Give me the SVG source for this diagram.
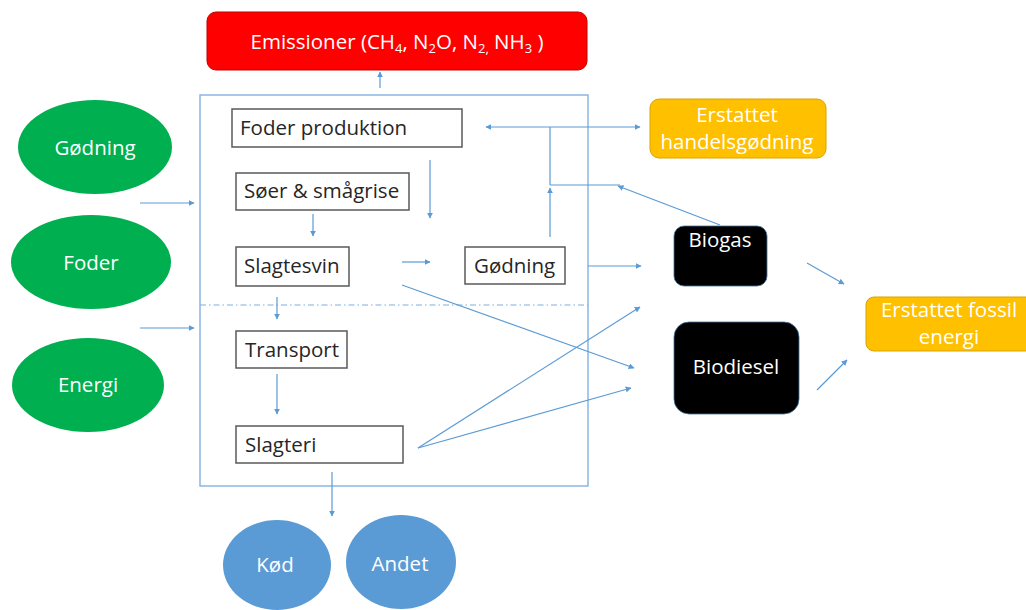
<svg xmlns="http://www.w3.org/2000/svg" width="1026" height="610" viewBox="0 0 1026 610">
  <style>
    .t { font-family: "Open Sans", "Liberation Sans", sans-serif; font-size: 20.5px; }
    .dark { fill: #262626; }
    .light { fill: #ffffff; }
    .box { fill: #ffffff; stroke: #595959; stroke-width: 1.5; }
    .conn { fill: none; stroke: #5B9BD5; stroke-width: 1.2; }
    .frame { fill: none; stroke: #8DB6E2; stroke-width: 1.5; }
    .green { fill: #00B050; }
    .blue { fill: #5B9BD5; }
    .gold { fill: #FFC000; stroke: #D9A400; stroke-width: 1; }
    .black { fill: #000000; stroke: #41719C; stroke-width: 0.8; }
  </style>
  <defs>
    <marker id="ah" viewBox="0 0 10 10" refX="9" refY="5" markerWidth="6" markerHeight="6" orient="auto" markerUnits="userSpaceOnUse">
      <path d="M0,0 L10,5 L0,10 z" fill="#5B9BD5"/>
    </marker>
  </defs>

  <!-- system boundary with the dash-dot divider -->
  <g id="system-boundary">
    <rect class="frame" x="200" y="95" width="388" height="391"/>
    <line x1="200" y1="305" x2="588" y2="305" stroke="#7FAEDD" stroke-width="1.2" stroke-dasharray="6 3 1.5 3"/>
  </g>

  <!-- connectors -->
  <g id="connectors">
    <line class="conn" x1="380" y1="88" x2="380" y2="72" marker-end="url(#ah)"/>
    <line class="conn" x1="140" y1="203" x2="194" y2="203" marker-end="url(#ah)"/>
    <line class="conn" x1="140" y1="328" x2="194" y2="328" marker-end="url(#ah)"/>
    <line class="conn" x1="430" y1="160" x2="430" y2="218" marker-end="url(#ah)"/>
    <line class="conn" x1="313" y1="214" x2="313" y2="236" marker-end="url(#ah)"/>
    <line class="conn" x1="402" y1="262" x2="430" y2="262" marker-end="url(#ah)"/>
    <line class="conn" x1="277" y1="297" x2="277" y2="319" marker-end="url(#ah)"/>
    <line class="conn" x1="277" y1="374" x2="277" y2="414" marker-end="url(#ah)"/>
    <line class="conn" x1="332" y1="472" x2="332" y2="516" marker-end="url(#ah)"/>
    <line class="conn" x1="550" y1="237" x2="550" y2="188" marker-end="url(#ah)"/>
    <line class="conn" x1="550" y1="127" x2="550" y2="185"/>
    <line class="conn" x1="550" y1="185" x2="620" y2="185"/>
    <line class="conn" x1="550" y1="127" x2="486" y2="127" marker-end="url(#ah)"/>
    <line class="conn" x1="550" y1="127" x2="640" y2="127" marker-end="url(#ah)"/>
    <line class="conn" x1="720" y1="225" x2="618" y2="186" marker-end="url(#ah)"/>
    <line class="conn" x1="588" y1="266" x2="641" y2="266" marker-end="url(#ah)"/>
    <line class="conn" x1="402" y1="285" x2="634" y2="368" marker-end="url(#ah)"/>
    <line class="conn" x1="418" y1="448" x2="640" y2="307" marker-end="url(#ah)"/>
    <line class="conn" x1="418" y1="448" x2="631" y2="388" marker-end="url(#ah)"/>
    <line class="conn" x1="807" y1="263" x2="844" y2="284" marker-end="url(#ah)"/>
    <line class="conn" x1="817" y1="390" x2="847" y2="360" marker-end="url(#ah)"/>
  </g>

  <g id="emissioner">
    <rect x="207" y="12" width="380" height="58" rx="9" fill="#FF0000" stroke="#C00000" stroke-width="1"/>
    <text class="t light" x="397" y="49" text-anchor="middle">Emissioner (CH<tspan font-size="13" dy="4">4</tspan><tspan dy="-4">, N</tspan><tspan font-size="13" dy="4">2</tspan><tspan dy="-4">O, N</tspan><tspan font-size="13" dy="4">2,</tspan><tspan dy="-4"> NH</tspan><tspan font-size="13" dy="4">3</tspan><tspan dy="-4"> )</tspan></text>
  </g>

  <g id="in-goedning">
    <ellipse class="green" cx="95" cy="147" rx="77" ry="47"/>
    <text class="t light" x="95" y="155" text-anchor="middle">Gødning</text>
  </g>
  <g id="in-foder">
    <ellipse class="green" cx="91" cy="262" rx="80" ry="47"/>
    <text class="t light" x="91" y="270" text-anchor="middle">Foder</text>
  </g>
  <g id="in-energi">
    <ellipse class="green" cx="88" cy="385" rx="76" ry="47"/>
    <text class="t light" x="88" y="392" text-anchor="middle">Energi</text>
  </g>

  <g id="foder-produktion">
    <rect class="box" x="232" y="109" width="230" height="38"/>
    <text class="t dark" x="240" y="135">Foder produktion</text>
  </g>
  <g id="soeer-smaagrise">
    <rect class="box" x="236" y="173" width="173" height="37"/>
    <text class="t dark" x="244" y="198">Søer &amp; smågrise</text>
  </g>
  <g id="slagtesvin">
    <rect class="box" x="236" y="247" width="113" height="39"/>
    <text class="t dark" x="244" y="273">Slagtesvin</text>
  </g>
  <g id="goedning">
    <rect class="box" x="465" y="247" width="100" height="37"/>
    <text class="t dark" x="474" y="273">Gødning</text>
  </g>
  <g id="transport">
    <rect class="box" x="236" y="331" width="111" height="37"/>
    <text class="t dark" x="245" y="357">Transport</text>
  </g>
  <g id="slagteri">
    <rect class="box" x="236" y="426" width="167" height="37"/>
    <text class="t dark" x="245" y="452">Slagteri</text>
  </g>

  <g id="koed">
    <ellipse class="blue" cx="277" cy="565" rx="54" ry="45"/>
    <text class="t light" x="275" y="572" text-anchor="middle">Kød</text>
  </g>
  <g id="andet">
    <ellipse class="blue" cx="401" cy="562" rx="55" ry="47"/>
    <text class="t light" x="400" y="571" text-anchor="middle">Andet</text>
  </g>

  <g id="erstattet-handelsgoedning">
    <rect class="gold" x="650" y="99" width="176" height="59" rx="9"/>
    <text class="t light" x="737" y="122" text-anchor="middle">Erstattet</text>
    <text class="t light" x="737" y="149" text-anchor="middle">handelsgødning</text>
  </g>

  <g id="biogas">
    <rect class="black" x="674" y="226" width="93" height="60" rx="10"/>
    <text class="t light" x="720" y="247" text-anchor="middle">Biogas</text>
  </g>
  <g id="biodiesel">
    <rect class="black" x="674" y="322" width="125" height="92" rx="15"/>
    <text class="t light" x="736" y="374" text-anchor="middle">Biodiesel</text>
  </g>

  <g id="erstattet-fossil-energi">
    <rect class="gold" x="866" y="297" width="170" height="54" rx="8"/>
    <text class="t light" x="949" y="317" text-anchor="middle">Erstattet fossil</text>
    <text class="t light" x="949" y="344" text-anchor="middle">energi</text>
  </g>
</svg>
